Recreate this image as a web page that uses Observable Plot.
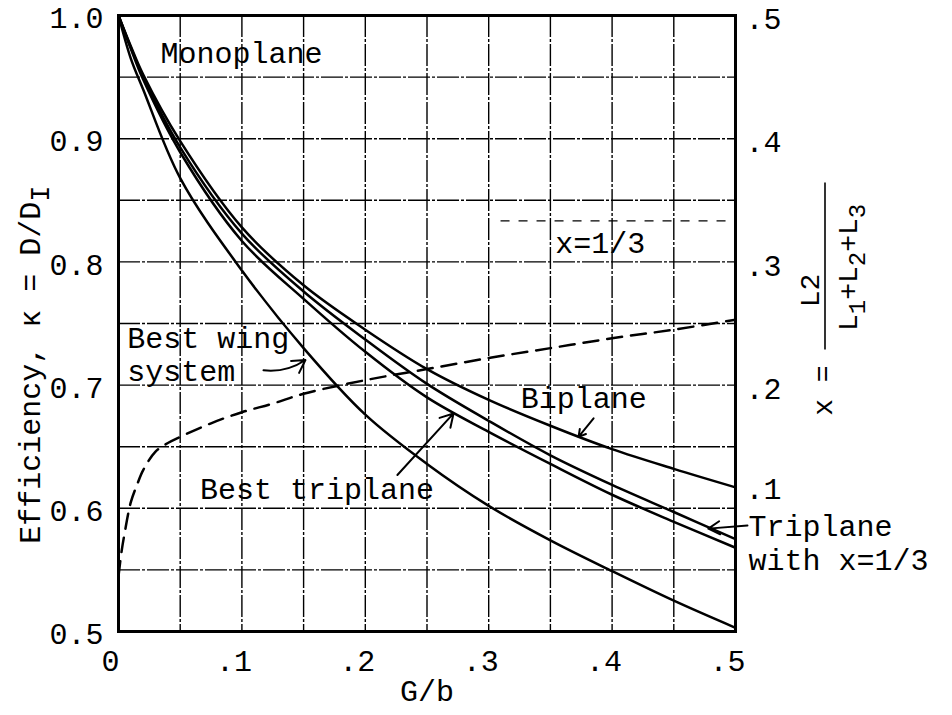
<!DOCTYPE html>
<html><head><meta charset="utf-8">
<script src="https://cdn.jsdelivr.net/npm/d3@7"></script>
<script src="https://cdn.jsdelivr.net/npm/@observablehq/plot@0.6"></script>
<style>
html,body{margin:0;padding:0;background:#fff}
</style></head><body><div id="chart"></div>
<script>
// G/b sample points
const gb = [0, 0.01, 0.02, 0.05, 0.1, 0.15, 0.2, 0.25, 0.3, 0.35, 0.4, 0.45, 0.5];
// Efficiency kappa = D/D_I
const biplane       = [1.0, 0.975, 0.952, 0.898, 0.828, 0.781, 0.745, 0.713, 0.688, 0.667, 0.648, 0.632, 0.617];
const triplaneThird = [1.0, 0.974, 0.950, 0.893, 0.823, 0.776, 0.737, 0.701, 0.671, 0.643, 0.619, 0.597, 0.575];
const bestTriplane  = [1.0, 0.973, 0.948, 0.889, 0.817, 0.770, 0.727, 0.690, 0.662, 0.636, 0.611, 0.589, 0.568];
const bestWing      = [1.0, 0.965, 0.940, 0.868, 0.793, 0.730, 0.676, 0.636, 0.602, 0.574, 0.549, 0.525, 0.503];
// x = L2/(L1+L2+L3) for best wing system (right axis)
const gbRatio = [0, 0.0025, 0.005, 0.01, 0.015, 0.02, 0.03, 0.04, 0.05, 0.075, 0.1, 0.125, 0.15, 0.2, 0.25, 0.3, 0.35, 0.4, 0.45, 0.5];
const xRatio  = [0.045, 0.065, 0.08, 0.105, 0.119, 0.131, 0.146, 0.153, 0.158, 0.169, 0.178, 0.185, 0.193, 0.204, 0.213, 0.222, 0.230, 0.238, 0.245, 0.253];
const thirdLine = [1/3];
// ticks
const xTicks = [0, 0.1, 0.2, 0.3, 0.4, 0.5];
const xTickLabels = ["0", ".1", ".2", ".3", ".4", ".5"];
const yTicks = [0.5, 0.6, 0.7, 0.8, 0.9, 1.0];
const yTickLabels = ["0.5", "0.6", "0.7", "0.8", "0.9", "1.0"];
const rTicks = [0.1, 0.2, 0.3, 0.4, 0.5];
const rTickLabels = [".1", ".2", ".3", ".4", ".5"];
const gridX = [0.05, 0.1, 0.15, 0.2, 0.25, 0.3, 0.35, 0.4, 0.45];
const gridY = [0.55, 0.6, 0.65, 0.7, 0.75, 0.8, 0.85, 0.9, 0.95];

const seriesDefs = [
  {name: "Biplane", values: biplane},
  {name: "Triplane with x=1/3", values: triplaneThird},
  {name: "Best triplane", values: bestTriplane},
  {name: "Best wing system", values: bestWing}
];
const rows = seriesDefs.flatMap(s => gb.map((g, i) => ({series: s.name, g, k: s.values[i]})));
const ratioRows = gbRatio.map((g, i) => ({g, r: xRatio[i]}));

const FONT = "'Liberation Mono', 'Courier New', monospace";
const FS = 30;
const rLabel = d => rTickLabels[rTicks.findIndex(t => Math.abs(t + 0.5 - d) < 1e-9)];

const chart = Plot.plot({
  width: 952, height: 715,
  marginLeft: 118, marginRight: 217, marginTop: 15, marginBottom: 84,
  x: {domain: [0, 0.5]},
  y: {domain: [0.5, 1.0]},
  style: {fontFamily: FONT, fontSize: FS + "px", color: "black", background: "white"},
  marks: [
    Plot.ruleX(gridX, {stroke: "black", strokeWidth: 1.4, strokeDasharray: "22,2,3,2"}),
    Plot.ruleY(gridY, {stroke: "black", strokeWidth: 1.4, strokeDasharray: "22,2,3,2"}),
    Plot.ruleY(thirdLine, {y: d => d + 0.5, x1: 0.31, x2: 0.5, stroke: "black", strokeWidth: 1.3, strokeDasharray: "9,9"}),
    Plot.line(rows, {x: "g", y: "k", z: "series", stroke: "black", strokeWidth: 2.5, curve: "catmull-rom"}),
    Plot.line(ratioRows, {x: "g", y: d => d.r + 0.5, stroke: "black", strokeWidth: 2.5, strokeDasharray: "15,9", curve: "catmull-rom"}),
    Plot.frame({stroke: "black", strokeWidth: 3}),
    Plot.axisX({ticks: xTicks, tickFormat: d => xTickLabels[xTicks.findIndex(t => Math.abs(t - d) < 1e-9)], tickSize: 0, tickPadding: 18, fontSize: FS, dx: -8, label: null}),
    Plot.axisY({ticks: yTicks, tickFormat: d => yTickLabels[yTicks.findIndex(t => Math.abs(t - d) < 1e-9)], tickSize: 0, tickPadding: 15, dy: 3, fontSize: FS, label: null}),
    Plot.axisY({anchor: "right", ticks: rTicks.slice(1).map(r => r + 0.5), tickFormat: rLabel, tickSize: 0, tickPadding: 10, dy: 4, fontSize: FS, label: null}),
    Plot.axisY({anchor: "right", ticks: rTicks.slice(0, 1).map(r => r + 0.5), tickFormat: rLabel, tickSize: 0, tickPadding: 10, dy: -19, fontSize: FS, label: null}),
    Plot.text(["G/b"], {frameAnchor: "bottom", dy: 69, fontSize: FS, fontFamily: FONT}),
    // annotations
    Plot.text(["Monoplane"], {x: 0.034, y: 0.969, textAnchor: "start", fontSize: FS}),
    Plot.text(["Best wing"], {x: 0.007, y: 0.738, textAnchor: "start", fontSize: FS}),
    Plot.text(["system"], {x: 0.007, y: 0.711, textAnchor: "start", fontSize: FS}),
    Plot.text(["Best triplane"], {x: 0.066, y: 0.615, textAnchor: "start", fontSize: FS}),
    Plot.text(["Biplane"], {x: 0.326, y: 0.689, textAnchor: "start", fontSize: FS}),
    Plot.text(["x=1/3"], {x: 0.354, y: 0.815, textAnchor: "start", fontSize: FS}),
    Plot.text(["Triplane"], {x: 0.5105, y: 0.585, textAnchor: "start", fontSize: FS}),
    Plot.text(["with x=1/3"], {x: 0.5105, y: 0.558, textAnchor: "start", fontSize: FS}),
    // arrows
    Plot.arrow([0], {x1: 0.1175, y1: 0.712, x2: 0.1515, y2: 0.7204, bend: -20, stroke: "black", strokeWidth: 2, headLength: 11}),
    Plot.arrow([0], {x1: 0.226, y1: 0.627, x2: 0.2715, y2: 0.677, stroke: "black", strokeWidth: 2, headLength: 11}),
    Plot.arrow([0], {x1: 0.385, y1: 0.673, x2: 0.3728, y2: 0.658, stroke: "black", strokeWidth: 2, headLength: 11}),
    Plot.arrow([0], {x1: 0.5097, y1: 0.586, x2: 0.478, y2: 0.5835, stroke: "black", strokeWidth: 2, headLength: 11})
  ]
});
document.getElementById("chart").appendChild(chart);

// rotated axis titles with subscripts
const svg = d3.select(chart.tagName.toLowerCase() === "svg" ? chart : chart.querySelector("svg"));
const yS = chart.scale("y");
const xS = chart.scale("x");
const left = svg.append("text")
  .attr("transform", `translate(40,${yS.apply(0.7) - 20}) rotate(-90)`)
  .attr("text-anchor", "middle")
  .attr("font-family", FONT).attr("font-size", 30).attr("fill", "black");
left.append("tspan").text("Efficiency, κ = D/D");
left.append("tspan").attr("dy", 9).attr("font-size", 27).text("I");

const rx = xS.apply(0.5) + 90;
const g = svg.append("g")
  .attr("transform", `translate(${rx},${yS.apply(0.8) + 4}) rotate(-90)`)
  .attr("font-family", FONT).attr("fill", "black");
g.append("line").attr("x1", -84).attr("x2", 83).attr("y1", 0).attr("y2", 0).attr("stroke", "black").attr("stroke-width", 1.6);
g.append("text").attr("x", -25).attr("y", -6).attr("text-anchor", "middle").attr("font-size", 28).text("L2");
const den = g.append("text").attr("x", -2).attr("y", 32).attr("text-anchor", "middle").attr("font-size", 28);
den.append("tspan").text("L");
den.append("tspan").attr("dy", 8).attr("font-size", 24).text("1");
den.append("tspan").attr("dy", -8).text("+L");
den.append("tspan").attr("dy", 8).attr("font-size", 24).text("2");
den.append("tspan").attr("dy", -8).text("+L");
den.append("tspan").attr("dy", 8).attr("font-size", 24).text("3");
g.append("text").attr("x", -100).attr("y", 0).attr("text-anchor", "end").attr("dominant-baseline", "middle").attr("font-size", 28).text("x =");
</script>
</body></html>
